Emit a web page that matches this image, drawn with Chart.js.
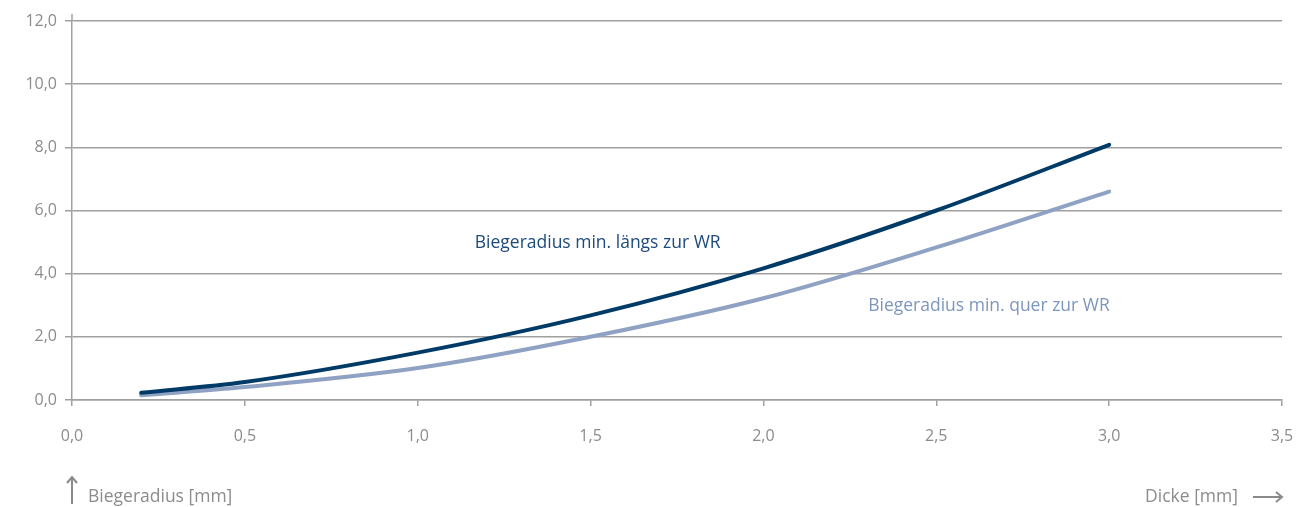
<!DOCTYPE html>
<html>
<head>
<meta charset="utf-8">
<script src="https://cdn.jsdelivr.net/npm/chart.js@4"></script>
<style>
  html, body { margin: 0; padding: 0; background: #fff; }
  #wrap { width: 1307px; height: 507px; }
</style>
</head>
<body>
<div id="wrap"><canvas id="myChart" width="1307" height="507"></canvas></div>
<script>
// data
const dicke = [0.2, 0.5, 1.0, 1.5, 2.0, 2.5, 3.0];
const laengs = [0.23, 0.57, 1.5, 2.68, 4.17, 6.0, 8.08];
const quer = [0.15, 0.41, 1.01, 2.0, 3.22, 4.83, 6.6];
const labelLaengs = 'Biegeradius min. längs zur WR';
const labelQuer = 'Biegeradius min. quer zur WR';
const yTitle = 'Biegeradius [mm]';
const xTitle = 'Dicke [mm]';

const GRID = '#a0a0a0';
const TXT = '#8c8c8c';
const DARK = '#003b67';
const LIGHT = '#8fa2c3';
const FONT = '"Open Sans", sans-serif';

const fmt = v => Number(v).toFixed(1).replace('.', ',');

// text labels and axis captions
const extras = {
  id: 'extras',
  afterDraw(chart) {
    const { ctx, chartArea, scales } = chart;
    const x = scales.x, y = scales.y;
    ctx.save();
    // y axis line overshoot above top grid line
    ctx.strokeStyle = GRID;
    ctx.lineWidth = 1.5;
    ctx.beginPath();
    ctx.moveTo(chartArea.left, chartArea.top - 7);
    ctx.lineTo(chartArea.left, chartArea.top);
    ctx.stroke();

    ctx.font = '17.5px ' + FONT;
    ctx.textBaseline = 'middle';
    ctx.textAlign = 'left';
    ctx.fillStyle = '#1d4a7c';
    ctx.fillText(labelLaengs, x.getPixelForValue(1.165), y.getPixelForValue(4.98));
    ctx.fillStyle = '#7d96bd';
    ctx.fillText(labelQuer, x.getPixelForValue(2.303), y.getPixelForValue(2.99));

    // axis captions
    const bY = 497;
    ctx.fillStyle = TXT;
    ctx.font = '17.5px ' + FONT;
    ctx.fillText(yTitle, 88, bY);
    ctx.textAlign = 'right';
    ctx.fillText(xTitle, 1238, bY);

    ctx.strokeStyle = '#8a8a8a';
    ctx.lineWidth = 2;
    // up arrow
    const ax = chartArea.left;
    ctx.beginPath();
    ctx.moveTo(ax, 504); ctx.lineTo(ax, 477);
    ctx.moveTo(ax - 5, 483); ctx.lineTo(ax, 477); ctx.lineTo(ax + 5, 483);
    ctx.stroke();
    // right arrow
    ctx.beginPath();
    ctx.moveTo(1253, 497); ctx.lineTo(1282, 497);
    ctx.moveTo(1276, 492); ctx.lineTo(1282, 497); ctx.lineTo(1276, 502);
    ctx.stroke();
    ctx.restore();
  }
};

const config = {
  type: 'line',
  data: {
    datasets: [{
      label: labelLaengs,
      data: dicke.map((d, i) => ({ x: d, y: laengs[i] })),
      borderColor: DARK,
      borderWidth: 4,
      pointRadius: 0,
      cubicInterpolationMode: 'monotone',
      borderCapStyle: 'round'
    }, {
      label: labelQuer,
      data: dicke.map((d, i) => ({ x: d, y: quer[i] })),
      borderColor: LIGHT,
      borderWidth: 4,
      pointRadius: 0,
      cubicInterpolationMode: 'monotone',
      borderCapStyle: 'round'
    }]
  },
  options: {
    responsive: false,
    animation: false,
    layout: { padding: { top: 21, right: 25, bottom: 0, left: 0 } },
    plugins: { legend: { display: false }, tooltip: { enabled: false } },
    scales: {
      x: {
        type: 'linear',
        min: 0, max: 3.5,
        afterFit: s => { s.height = 107; s.paddingLeft = 0; s.paddingRight = 0; },
        grid: { drawOnChartArea: false, color: GRID, tickLength: 6, lineWidth: 1.5 },
        border: { color: GRID, width: 1.5 },
        ticks: { stepSize: 0.5, padding: 21, color: TXT, font: { family: FONT, size: 16 }, callback: fmt, maxRotation: 0 }
      },
      y: {
        min: 0, max: 12,
        afterFit: s => { s.width = 72; },
        grid: { color: GRID, tickLength: 7, lineWidth: 1.5 },
        border: { color: GRID, width: 1.5 },
        ticks: { stepSize: 2, padding: 8, color: TXT, font: { family: FONT, size: 16 }, callback: fmt }
      }
    }
  },
  plugins: [extras]
};

const myChart = new Chart(document.getElementById('myChart'), config);
</script>
</body>
</html>
